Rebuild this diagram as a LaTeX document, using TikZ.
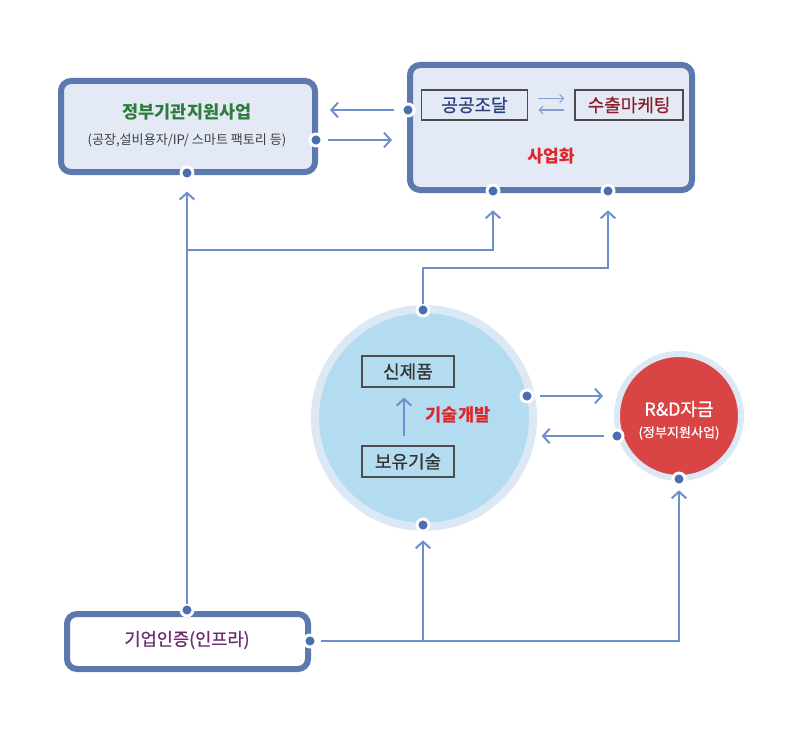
\documentclass[tikz,border=0pt]{standalone}
\usepackage{fontspec}
\setmainfont{Noto Sans CJK KR}
\newfontfamily\krmed[FakeBold=0.8]{Noto Sans CJK KR}
\usepackage{tikz}
\usetikzlibrary{arrows.meta,positioning,calc}
\definecolor{frame}{RGB}{91,121,174}
\definecolor{panelbg}{RGB}{227,234,245}
\definecolor{link}{RGB}{109,143,203}
\definecolor{portc}{RGB}{74,110,175}
\definecolor{govgreen}{RGB}{46,125,58}
\definecolor{procblue}{RGB}{43,63,126}
\definecolor{mktred}{RGB}{140,28,40}
\definecolor{hotred}{RGB}{224,38,43}
\definecolor{certpurple}{RGB}{107,45,110}
\definecolor{techfill}{RGB}{180,220,240}
\definecolor{ringc}{RGB}{220,233,245}
\definecolor{fundred}{RGB}{217,68,68}

\begin{document}
\begin{tikzpicture}[x=0.75pt,y=-0.75pt,
    panel/.style={draw=frame,line width=4.5pt,rounded corners=7.5pt,fill=panelbg,
      inner sep=0pt,outer sep=0pt},
    subbox/.style={draw=black!70,line width=0.9pt,minimum width=80pt,minimum height=22.5pt,
      inner sep=0pt,font=\krmed\fontsize{13.5}{15}\selectfont},
    port/.style={circle,fill=portc,draw=white,line width=2.2pt,minimum size=9pt,
      inner sep=0pt,outer sep=0pt},
    flow/.style={-{Straight Barb[length=5pt,width=11pt,line width=1.5pt]},line width=1.5pt,color=link},
    minor/.style={-{Straight Barb[length=3pt,width=6pt]},line width=0.8pt,color=link!85}
  ]
    \useasboundingbox (0,0) rectangle (800,735);
    % panels
    \node[panel,minimum width=190.5pt,minimum height=68.25pt] (gov) at (188,126.5) {};
    \node[font=\bfseries\fontsize{13.1}{15}\selectfont,text=govgreen] (govt) at (187,112) {정부기관지원사업};
    \node[font=\fontsize{9.8}{11}\selectfont,text=black!75] (govs) at (187,140) {(공장,설비용자/IP/ 스마트 팩토리 등)};
    \node[panel,minimum width=211.5pt,minimum height=93.75pt] (biz) at (551,127.5) {};
    \node[subbox,text=procblue] (proc) at (474.5,105) {공공조달};
    \node[subbox,text=mktred,minimum width=81pt] (mkt) at (629,105) {수출마케팅};
    \node[font=\bfseries\fontsize{12.8}{15}\selectfont,text=hotred] (bizt) at (551,156) {사업화};
    \node[panel,fill=white,minimum width=180.75pt,minimum height=41.25pt] (cert) at (187.5,641.5) {};
    \node[font=\krmed\fontsize{13.2}{15}\selectfont,text=certpurple] (certt) at (187,640) {기업인증(인프라)};
    % circles
    \node[circle,fill=techfill,draw=ringc,line width=6pt,minimum size=163.5pt,inner sep=0pt,
      outer sep=0pt] (tech) at (424,418) {};
    \node[subbox,text=black!80,minimum width=69pt,minimum height=23.25pt,fill=techfill] (newp) at (408,371.5) {신제품};
    \node[subbox,text=black!80,minimum width=69pt,minimum height=23.25pt,fill=techfill] (own) at (408,461.5) {보유기술};
    \node[font=\bfseries\fontsize{13.2}{15}\selectfont,text=hotred] (techt) at (458,415) {기술개발};
    \node[circle,fill=fundred,draw=ringc,line width=4.5pt,minimum size=93pt,inner sep=0pt,
      outer sep=0pt] (fund) at (679,416) {};
    \node[font=\krmed\fontsize{13.5}{15}\selectfont,text=white] (fundt) at (679,409) {R\&D자금};
    \node[font=\krmed\fontsize{9.8}{11}\selectfont,text=white] (funds) at (679,433) {(정부지원사업)};
    % ports
    \node[port] (p1r) at (316,140) {};
    \node[port] (p1b) at (187,173) {};
    \node[port] (p2l) at (408,110) {};
    \node[port] (p2a) at (493,191) {};
    \node[port] (p2b) at (608,191) {};
    \node[port] (p3t) at (187,610) {};
    \node[port] (p3r) at (310,641) {};
    \node[port] (ptt) at (423,310) {};
    \node[port] (ptr) at (527,396) {};
    \node[port] (ptb) at (423,525) {};
    \node[port] (pfl) at (617,436) {};
    \node[port] (pfb) at (679,479) {};
    \coordinate (j1) at (187,250);
    \coordinate (j2) at (423,641);
    % connectors
    \draw[flow,shorten <=6pt,shorten >=10.5pt] (p2l) -- (p2l -| p1r);
    \draw[flow,shorten <=4.5pt,shorten >=12pt] (p1r) -- (p1r -| p2l);
    \draw[flow,shorten >=9.4pt] (p3t) -- (p1b);
    \draw[flow,shorten >=10pt] (j1) -| (p2a);
    \draw[flow,shorten >=10pt] (ptt) |- (423,268) -| (p2b);
    \draw[flow,shorten <=5.6pt,shorten >=10.5pt] (ptr) -- (ptr -| pfl);
    \draw[flow,shorten <=5pt,shorten >=11pt] (pfl) -- (pfl -| ptr);
    \draw[flow,shorten <=3.4pt,shorten >=4pt] (p3r) -| (pfb);
    \draw[flow,shorten >=7pt] (j2) -- (ptb);
    \draw[minor,shorten <=7.5pt,shorten >=7.5pt] ([yshift=4.9pt]proc.east) -- ([yshift=4.9pt]mkt.west);
    \draw[minor,shorten <=7.5pt,shorten >=7.5pt] ([yshift=-3.75pt]mkt.west) -- ([yshift=-3.75pt]proc.east);
    \draw[flow,shorten <=6.7pt,shorten >=7.5pt] ([xshift=-3pt]own.north) -- ([xshift=-3pt]newp.south);
  \end{tikzpicture}
\end{document}
